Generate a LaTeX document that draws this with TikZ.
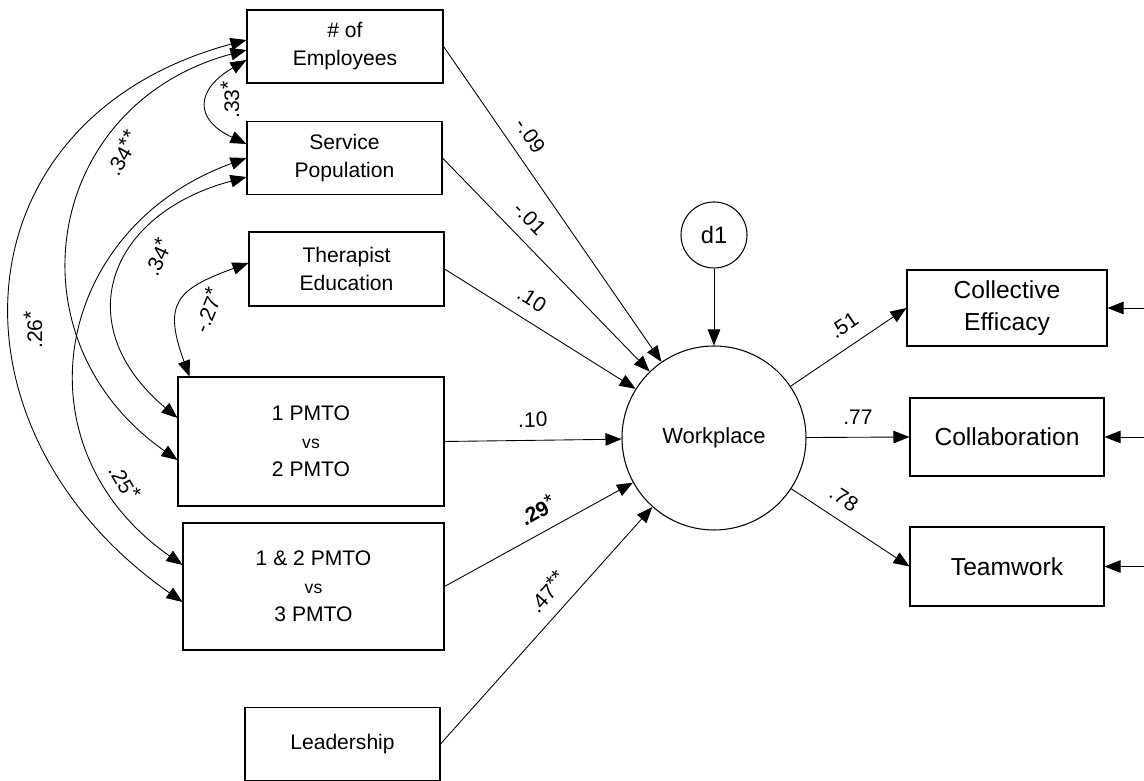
\documentclass[tikz,border=0pt]{standalone}
\usepackage{fontspec}
\setmainfont{Liberation Sans}
\usetikzlibrary{arrows.meta}

\newcommand{\sg}[1]{\raisebox{0.35ex}{#1}}

\begin{document}
\begin{tikzpicture}[
        obs/.style={draw, line width=0.6pt, align=center, minimum width=3.9cm, minimum height=1.45cm, font=\fontsize{12}{16}\selectfont},
        outc/.style={draw, line width=0.6pt, align=center, minimum width=3.88cm, minimum height=1.56cm, font=\fontsize{14}{18}\selectfont},
        lat/.style={draw, circle, line width=0.6pt},
        arr/.style={line width=0.5pt, -{Triangle[length=3.2mm,width=2.5mm]}},
        cov/.style={line width=0.5pt, {Triangle[length=3.2mm,width=2.5mm]}-{Triangle[length=3.2mm,width=2.5mm]}},
        lbl/.style={font=\fontsize{12}{14}\selectfont, inner sep=3pt}
    ]
        \useasboundingbox (0,0) rectangle (22.88,15.62);

        % predictors
        \node[obs, minimum width=3.92cm, minimum height=1.46cm] (emp) at (6.9,14.69) {\# of\\Employees};
        \node[obs] (svc) at (6.89,12.46) {Service\\Population};
        \node[obs, minimum height=1.48cm] (ther) at (6.93,10.24) {Therapist\\Education};
        \node[obs, minimum width=5.32cm, minimum height=2.58cm] (pm1) at (6.22,6.79) {1 PMTO\\{\fontsize{10}{16}\selectfont vs}\\2 PMTO};
        \node[obs, minimum width=5.22cm, minimum height=2.54cm] (pm2) at (6.27,3.89) {1 \& 2 PMTO\\{\fontsize{10}{16}\selectfont vs}\\3 PMTO};
        \node[obs] (lead) at (6.85,0.74) {Leadership};

        % latent factor and disturbance
        \node[lat, minimum size=3.68cm, font=\fontsize{12.5}{15}\selectfont] (w) at (14.28,6.86) {Workplace};
        \node[lat, minimum size=1.32cm, font=\fontsize{13.5}{16}\selectfont] (d1) at (14.28,10.92) {d1};

        % outcomes
        \node[outc, minimum width=4cm, minimum height=1.52cm] (ce) at (20.14,9.46) {Collective\\Efficacy};
        \node[outc] (col) at (20.14,6.88) {Collaboration};
        \node[outc, minimum height=1.58cm] (tw) at (20.14,4.29) {Teamwork};
        \coordinate (ece) at (22.88,9.46);
        \coordinate (ecol) at (22.88,6.88);
        \coordinate (etw) at (22.88,4.29);

        % paths
        \draw[arr] (emp.east) -- (w) node[lbl, sloped, above=1.5mm, pos=0.32] (b1) {-.09};
        \draw[arr] (svc.east) -- (w) node[lbl, sloped, above=1.5mm, pos=0.35] (b2) {-.01};
        \draw[arr] (ther.east) -- (w) node[lbl, sloped, above=1.5mm, pos=0.4] (b3) {.10};
        \draw[arr] (pm1.east) -- (w) node[lbl, sloped, above=1.5mm, pos=0.5] (b4) {.10};
        \draw[arr] (pm2.east) -- (w) node[lbl, sloped, above=1.5mm, pos=0.55] (b5) {\textbf{.29}\sg{*}};
        \draw[arr] (lead.east) -- (w) node[lbl, sloped, above=1.5mm, pos=0.58] (b6) {.47\sg{**}};
        \draw[arr] (d1) -- (w);
        \draw[arr] (w) -- (ce.west) node[lbl, sloped, above=1.5mm, pos=0.56] (l1) {.51};
        \draw[arr] (w) -- (col.west) node[lbl, sloped, above=1.5mm, pos=0.5] (l2) {.77};
        \draw[arr] (w) -- (tw.west) node[lbl, sloped, above=1.5mm, pos=0.35] (l3) {.78};
        \draw[arr] (ece) -- (ce.east);
        \draw[arr] (ecol) -- (col.east);
        \draw[arr] (etw) -- (tw.east);

        % correlations
        \draw[cov] ([yshift=1.3mm]emp.west) to[out=195, in=145, distance=6.04cm] ([yshift=-3.1mm]pm2.west);
        \draw[cov] ([yshift=-0.7mm]emp.west) to[out=195, in=145, distance=4.2cm] ([yshift=-3.7mm]pm1.west);
        \draw[cov] ([yshift=-2.7mm]emp.west) to[out=210, in=155, distance=1.17cm] ([yshift=2.8mm]svc.west);
        \draw[cov] (svc.west) to[out=200, in=145, distance=4.12cm] ([yshift=4.3mm]pm2.west);
        \draw[cov] ([yshift=-3.8mm]svc.west) to[out=195, in=140, distance=2.88cm] ([yshift=4.7mm]pm1.west);
        \draw[cov] ([yshift=1.2mm]ther.west) to[out=200, in=110, distance=1.55cm] ([xshift=2.4mm]pm1.north west);
        \node[lbl, rotate=90] (c1) at (4.6,13.62) {.33\sg{*}};
        \node[lbl, rotate=60] (c2) at (2.44,12.56) {.34\sg{**}};
        \node[lbl, rotate=65] (c3) at (3.14,10.48) {.34\sg{*}};
        \node[lbl, rotate=68] (c4) at (4.14,9.42) {-.27\sg{*}};
        \node[lbl, rotate=90] (c5) at (0.66,9.02) {.26\sg{*}};
        \node[lbl, rotate=-60] (c6) at (2.5,5.98) {.25\sg{*}};
\end{tikzpicture}
\end{document}
